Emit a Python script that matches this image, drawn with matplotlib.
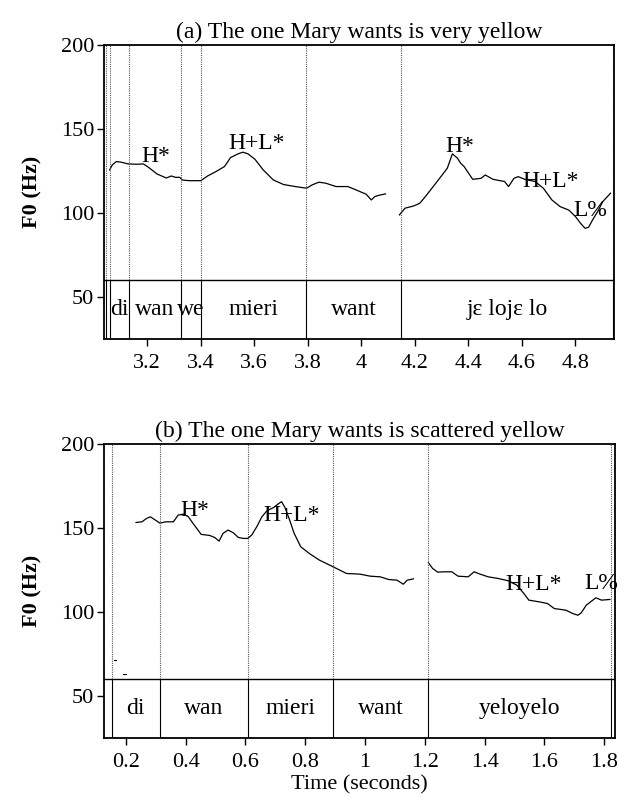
import numpy as np
import matplotlib
matplotlib.use("Agg")
import matplotlib.pyplot as plt

plt.rcParams['font.family'] = ['Liberation Serif', 'DejaVu Serif']

# ---------------- panel (a) ----------------
a_title = "(a) The one Mary wants is very yellow"
a_t1 = [3.060, 3.070, 3.085, 3.104, 3.129, 3.161, 3.186, 3.205, 3.237, 3.272,
        3.290, 3.306, 3.322, 3.331, 3.357, 3.401, 3.426, 3.457, 3.489, 3.512,
        3.540, 3.558, 3.577, 3.603, 3.634, 3.672, 3.710, 3.754, 3.796, 3.817,
        3.842, 3.868, 3.906, 3.950, 3.981, 4.019, 4.038, 4.051, 4.067, 4.091]
a_f1 = [125.5, 128.5, 130.5, 130.1, 129.1, 128.9, 129.1, 127.1, 123.1, 120.7,
        121.9, 121.1, 121.1, 119.5, 119.1, 119.1, 121.9, 124.5, 127.5, 132.9,
        135.1, 136.1, 135.1, 131.9, 125.5, 119.5, 116.8, 115.6, 114.6, 116.6,
        118.2, 117.6, 115.6, 115.6, 113.6, 111.0, 107.6, 109.6, 110.4, 111.2]
a_t2 = [4.143, 4.164, 4.196, 4.219, 4.240, 4.284, 4.322, 4.341, 4.360, 4.372,
        4.385, 4.417, 4.448, 4.464, 4.493, 4.536, 4.551, 4.571, 4.587, 4.612,
        4.650, 4.681, 4.713, 4.744, 4.776, 4.801, 4.820, 4.837, 4.850, 4.865,
        4.884, 4.903, 4.932]
a_f2 = [98.7, 102.7, 104.0, 105.6, 109.6, 118.6, 126.5, 135.1, 132.5, 129.5,
        127.5, 119.9, 120.5, 122.5, 119.9, 118.6, 115.6, 120.5, 121.5, 119.9,
        118.6, 114.6, 107.6, 103.6, 101.6, 97.7, 93.7, 90.7, 91.3, 95.7,
        100.7, 106.6, 111.6]
a_bounds = [3.045, 3.060, 3.131, 3.326, 3.401, 3.794, 4.149, 4.943]
# first interval (3.045-3.060) is empty
a_words = ["", "di", "wan", "we", "mieri", "want", "j\u025b loj\u025b lo"]
a_tones = ["H*", "H+L*", "H*", "H+L*", "L%"]
a_tone_t = [3.234, 3.609, 4.370, 4.707, 4.858]
a_tone_f = [133.8, 141.0, 139.4, 118.5, 101.6]
a_xlim = (3.039, 4.945)
a_xticks = [3.2, 3.4, 3.6, 3.8, 4.0, 4.2, 4.4, 4.6, 4.8]
a_xlabels = ["3.2", "3.4", "3.6", "3.8", "4", "4.2", "4.4", "4.6", "4.8"]

# ---------------- panel (b) ----------------
b_title = "(b) The one Mary wants is scattered yellow"
b_t1 = [0.234, 0.254, 0.269, 0.282, 0.294, 0.314, 0.333, 0.359, 0.375, 0.393,
        0.409, 0.429, 0.452, 0.480, 0.497, 0.512, 0.525, 0.542, 0.559, 0.576,
        0.593, 0.608, 0.621, 0.638, 0.655, 0.672, 0.695, 0.712, 0.721, 0.732,
        0.746, 0.763, 0.785, 0.814, 0.847, 0.893, 0.938, 0.983, 1.017, 1.051,
        1.079, 1.107, 1.128, 1.141, 1.162]
b_f1 = [153.2, 153.6, 155.6, 156.6, 155.2, 152.8, 153.6, 153.6, 157.6, 158.2,
        156.6, 151.6, 146.1, 145.5, 144.3, 142.1, 146.7, 148.7, 147.1, 144.3,
        143.7, 143.7, 145.7, 150.7, 156.6, 160.2, 162.2, 164.6, 165.6, 162.2,
        155.6, 146.7, 138.7, 134.7, 130.8, 126.8, 122.8, 122.4, 121.2, 120.8,
        119.2, 118.8, 116.4, 118.8, 119.6]
b_t2 = [1.212, 1.226, 1.243, 1.265, 1.290, 1.311, 1.345, 1.365, 1.385, 1.412,
        1.446, 1.480, 1.508, 1.531, 1.548, 1.582, 1.610, 1.633, 1.672, 1.695,
        1.712, 1.723, 1.740, 1.772, 1.791, 1.819]
b_f2 = [129.2, 125.8, 123.6, 123.8, 123.8, 121.2, 120.8, 123.8, 122.4, 120.8,
        119.8, 118.4, 115.8, 110.9, 106.9, 105.9, 104.9, 101.9, 100.9, 98.9,
        97.9, 99.3, 103.9, 108.3, 106.9, 107.3]
b_dash_t = [(0.160, 0.168), (0.192, 0.200)]
b_dash_f = [71.5, 62.7]
b_bounds = [0.153, 0.314, 0.608, 0.893, 1.210, 1.822]
b_words = ["di", "wan", "mieri", "want", "yeloyelo"]
b_tones = ["H*", "H+L*", "H+L*", "L%"]
b_tone_t = [0.432, 0.754, 1.565, 1.791]
b_tone_f = [160.6, 157.6, 116.4, 116.8]
b_xlim = (0.127, 1.836)
b_xticks = [0.2, 0.4, 0.6, 0.8, 1.0, 1.2, 1.4, 1.6, 1.8]
b_xlabels = ["0.2", "0.4", "0.6", "0.8", "1", "1.2", "1.4", "1.6", "1.8"]

yticks = [50, 100, 150, 200]
ylim = (24.7, 200)
tier_line = 60
word_y = 42.5
fs_txt = 17   # tones, words, titles
fs_tick = 16


def panel(ax, title, segs, bounds, words, tones, tone_t, tone_f, xlim, xticks, xlabels):
    for t, f in segs:
        ax.plot(t, f, color='black', lw=0.9)
    ax.axhline(tier_line, color='black', lw=1.0)
    for b in bounds:
        ax.plot([b, b], [tier_line, 200], color='#555555', lw=0.8, ls=(0, (1, 1)))
        ax.plot([b, b], [ylim[0], tier_line], color='black', lw=0.8)
    for i, w in enumerate(words):
        if w:
            ax.text((bounds[i] + bounds[i + 1]) / 2, word_y, w,
                    ha='center', va='center', fontsize=fs_txt)
    for lab, t, f in zip(tones, tone_t, tone_f):
        ax.text(t, f, lab, ha='center', va='center', fontsize=fs_txt, clip_on=False)
    ax.set_xlim(*xlim)
    ax.set_ylim(*ylim)
    ax.set_yticks(yticks)
    ax.set_xticks(xticks)
    ax.set_xticklabels(xlabels)
    ax.tick_params(labelsize=fs_tick, length=5, width=1, direction='out', pad=2)
    ax.tick_params(axis='x', pad=6)
    ax.set_ylabel("F0 (Hz)", fontsize=fs_tick, fontweight='bold', labelpad=13)
    ax.set_title(title, fontsize=fs_txt, pad=5)
    for s in ax.spines.values():
        s.set_linewidth(1.3)


fig = plt.figure(figsize=(6.21, 7.98), dpi=100)
ax1 = fig.add_axes([0.1675, 0.5752, 0.8212, 0.3684])
ax2 = fig.add_axes([0.1675, 0.0752, 0.8228, 0.3684])

panel(ax1, a_title, [(a_t1, a_f1), (a_t2, a_f2)], a_bounds, a_words,
      a_tones, a_tone_t, a_tone_f, a_xlim, a_xticks, a_xlabels)
panel(ax2, b_title, [(b_t1, b_f1), (b_t2, b_f2)], b_bounds, b_words,
      b_tones, b_tone_t, b_tone_f, b_xlim, b_xticks, b_xlabels)
for (t0, t1), f in zip(b_dash_t, b_dash_f):
    ax2.plot([t0, t1], [f, f], color='black', lw=0.8)
ax2.set_xlabel("Time (seconds)", fontsize=fs_tick, labelpad=2)

fig.savefig("out.png", dpi=100)
